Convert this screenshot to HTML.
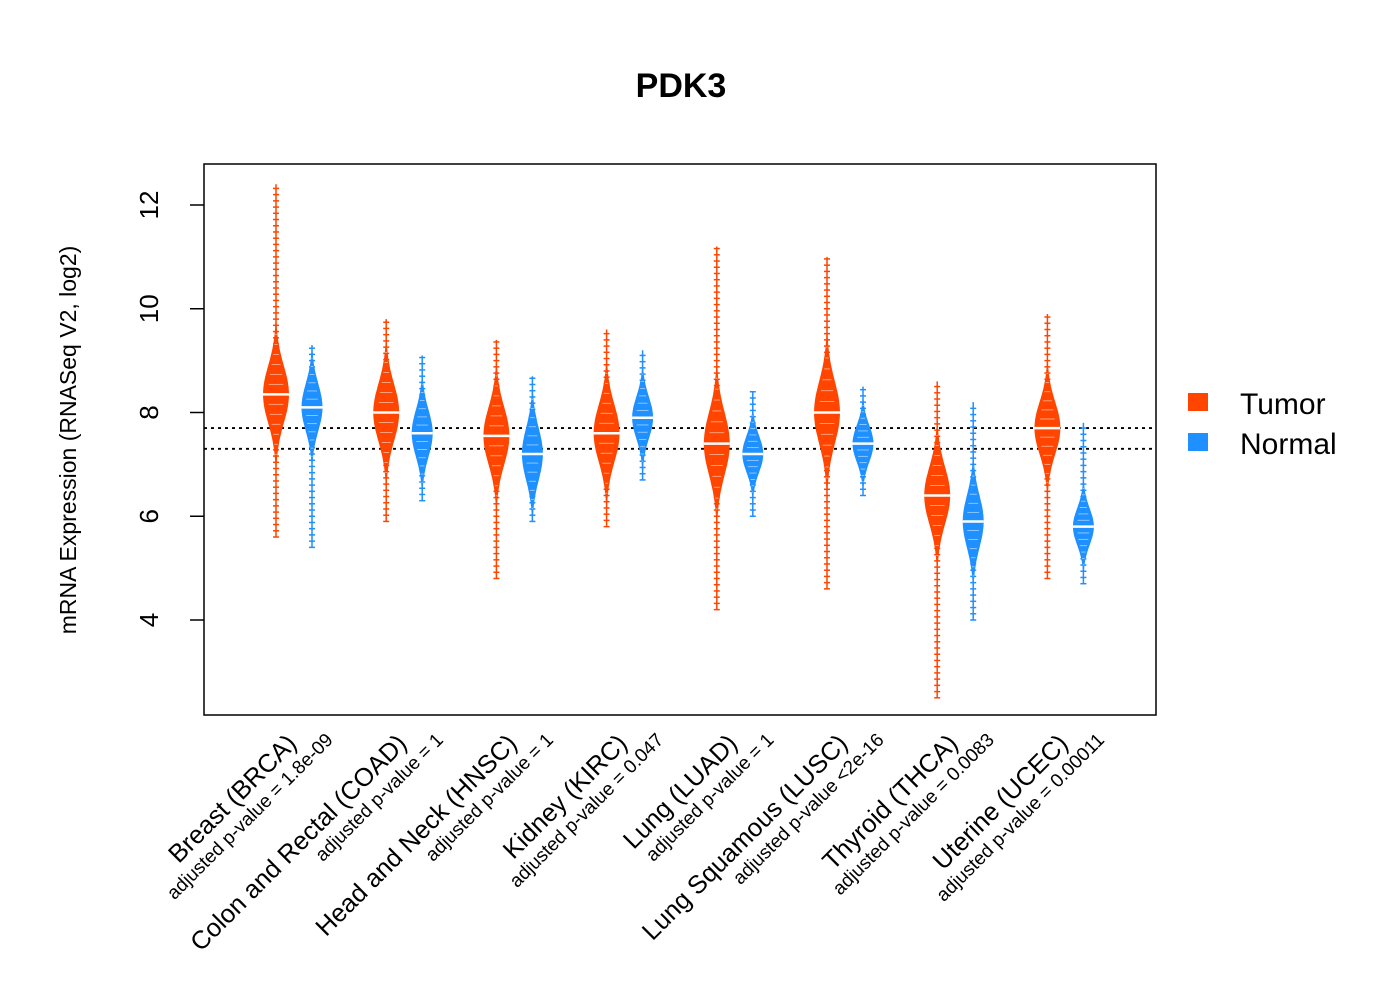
<!DOCTYPE html>
<html><head><meta charset="utf-8"><style>
html,body{margin:0;padding:0;background:#fff;}
svg{display:block;font-family:"Liberation Sans",Arial,sans-serif;}
</style></head><body>
<svg id="chart" width="1400" height="1000">
<text x="681" y="97" text-anchor="middle" font-size="34" font-weight="bold">PDK3</text>
<rect x="204" y="164" width="952" height="551" fill="none" stroke="#000" stroke-width="1.5"/>
<text transform="translate(76,440) rotate(-90)" text-anchor="middle" font-size="23">mRNA Expression (RNASeq V2, log2)</text>
<g id="yaxis"></g>
<g id="refs"></g>
<g id="beans"></g>
<g id="xlabels"></g>
<g>
<rect x="1188" y="393" width="20" height="18" fill="#FF4500"/>
<text x="1240" y="414" font-size="30">Tumor</text>
<rect x="1188" y="433" width="20" height="18" fill="#1E90FF"/>
<text x="1240" y="454" font-size="30">Normal</text>
</g>
</svg>
<script>
const categories = ["Breast (BRCA)","Colon and Rectal (COAD)","Head and Neck (HNSC)","Kidney (KIRC)","Lung (LUAD)","Lung Squamous (LUSC)","Thyroid (THCA)","Uterine (UCEC)"];
const pvalues = ["adjusted p-value = 1.8e-09","adjusted p-value = 1","adjusted p-value = 1","adjusted p-value = 0.047","adjusted p-value = 1","adjusted p-value <2e-16","adjusted p-value = 0.0083","adjusted p-value = 0.00011"];
const tumorMedian = [8.35,8.0,7.55,7.6,7.4,8.0,6.4,7.7];
const tumorSpread = [0.55,0.55,0.55,0.55,0.6,0.6,0.55,0.5];
const tumorMin = [5.6,5.9,4.8,5.8,4.2,4.6,2.5,4.8];
const tumorMax = [12.4,9.8,9.4,9.6,11.2,11.0,8.6,9.9];
const normalMedian = [8.1,7.6,7.2,7.9,7.2,7.4,5.9,5.8];
const normalSpread = [0.45,0.45,0.5,0.4,0.35,0.35,0.5,0.35];
const normalMin = [5.4,6.3,5.9,6.7,6.0,6.4,4.0,4.7];
const normalMax = [9.3,9.1,8.7,9.2,8.4,8.5,8.2,7.8];
const yTicks = [4,6,8,10,12];
const refLines = [7.7,7.3];

const NS="http://www.w3.org/2000/svg";
function y(v){return 620-(v-4)*51.875;}
function xT(i){return 276+i*110.2;}
function xN(i){return 312+i*110.2;}
function mk(tag,attrs,parent){const e=document.createElementNS(NS,tag);for(const k in attrs)e.setAttribute(k,attrs[k]);parent.appendChild(e);return e;}
const yaxis=document.getElementById('yaxis');
yTicks.forEach(t=>{
  const l=mk('line',{x1:190,x2:204,y1:y(t),y2:y(t),stroke:'#000','stroke-width':1.5},yaxis);
  
  
  const tx=mk('text',{transform:`translate(158,${y(t)}) rotate(-90)`,'text-anchor':'middle','font-size':26},yaxis);
  tx.textContent=t;
  
  
});
const refs=document.getElementById('refs');
refLines.forEach(v=>{
  const l=mk('line',{x1:204,x2:1156,y1:y(v),y2:y(v),stroke:'#000','stroke-width':1.8,'stroke-dasharray':'3,4'},refs);
  
  
});
const beans=document.getElementById('beans');
function bean(cx,m,s,mn,mx,w,col,name){
  const g=mk('g',{},beans);
  
  
  mk('line',{x1:cx,x2:cx,y1:y(mx),y2:y(mn),stroke:col,'stroke-width':1.5},g);
  for(let v=mn;v<=mx;v+=0.12){
    mk('line',{x1:cx-3,x2:cx+3,y1:y(v),y2:y(v),stroke:col,'stroke-width':1.5},g);
  }
  const lo=Math.max(mn,m-3*s), hi=Math.min(mx,m+3*s);
  let right=[],left=[];
  for(let k=0;k<=60;k++){const v=lo+(hi-lo)*k/60;const hw=w*Math.exp(-0.5*((v-m)/s)**2);right.push([cx+hw,y(v)]);left.push([cx-hw,y(v)]);}
  const pts=right.concat(left.reverse()).map(p=>p[0].toFixed(1)+','+p[1].toFixed(1)).join(' ');
  mk('polygon',{points:pts,fill:col},g);
  for(let k=-6;k<=6;k++){if(k===0)continue;const v=m+k*s*0.35;const hw=w*Math.exp(-0.5*((v-m)/s)**2);
    mk('line',{x1:cx-hw*0.6,x2:cx+hw*0.6,y1:y(v),y2:y(v),stroke:'#fff','stroke-width':0.8,opacity:0.6},g);}
  mk('line',{x1:cx-w,x2:cx+w,y1:y(m),y2:y(m),stroke:'#fff','stroke-width':2.5},g);
}
categories.forEach((c,i)=>{
  bean(xT(i),tumorMedian[i],tumorSpread[i],tumorMin[i],tumorMax[i],13,'#FF4500','bean-tumor-'+i);
  bean(xN(i),normalMedian[i],normalSpread[i],normalMin[i],normalMax[i],10.5,'#1E90FF','bean-normal-'+i);
});
const xl=document.getElementById('xlabels');
categories.forEach((c,i)=>{
  const gc=(xT(i)+xN(i))/2;
  const t=mk('text',{transform:`translate(${gc+4},745) rotate(-45)`,'text-anchor':'end','font-size':25.5},xl);
  t.textContent=c;
  
  
  const p=mk('text',{transform:`translate(${gc+40},741) rotate(-45)`,'text-anchor':'end','font-size':19},xl);
  p.textContent=pvalues[i];
  
  
});
</script>
</body></html>
